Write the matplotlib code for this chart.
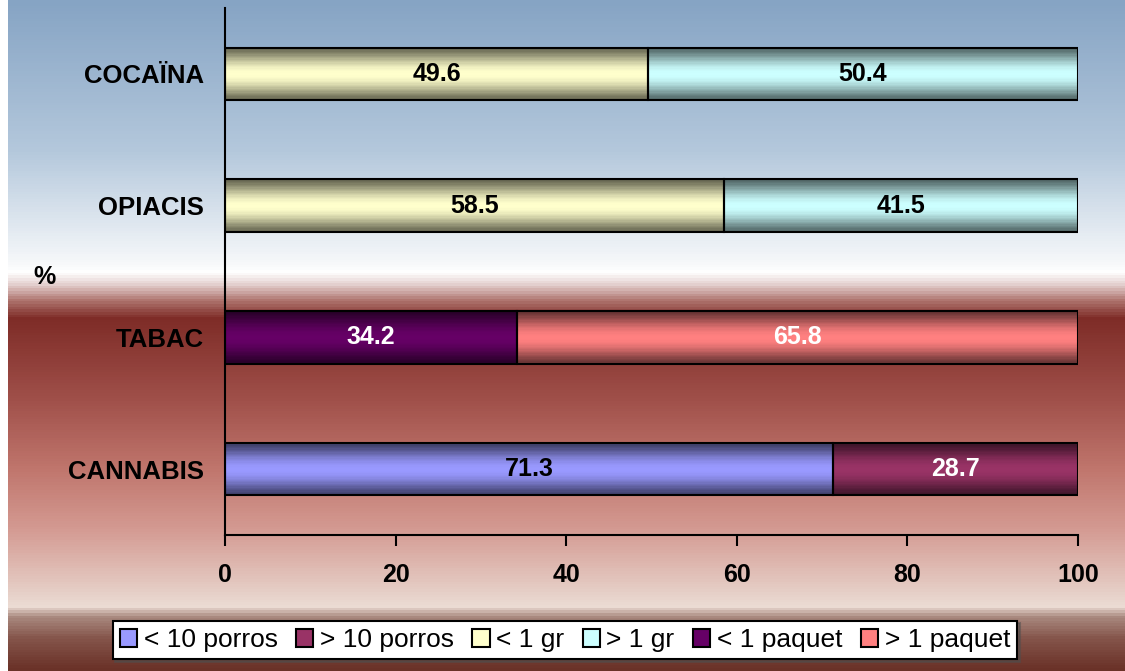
import numpy as np
import matplotlib
matplotlib.use('Agg')
import matplotlib.pyplot as plt
from matplotlib.colors import LinearSegmentedColormap, to_rgb
from matplotlib.patches import Patch

# data
drugs = ['CANNABIS', 'TABAC', 'OPIACIS', 'COCAÏNA']
first_part = [71.3, 34.2, 58.5, 49.6]
second_part = [28.7, 65.8, 41.5, 50.4]
first_colors = ['#9999ff', '#660066', '#ffffcc', '#ffffcc']
second_colors = ['#993366', '#ff8080', '#ccffff', '#ccffff']
first_txt = ['black', 'white', 'black', 'black']
second_txt = ['white', 'white', 'black', 'black']
legend_labels = ['< 10 porros', '> 10 porros', '< 1 gr', '> 1 gr', '< 1 paquet', '> 1 paquet']
legend_colors = ['#9999ff', '#993366', '#ffffcc', '#ccffff', '#660066', '#ff8080']
xticks = [0, 20, 40, 60, 80, 100]

plt.rcParams['font.family'] = ['Liberation Sans', 'DejaVu Sans']

fig = plt.figure(figsize=(11.25, 6.71), dpi=100)

# background gradient (top to bottom, pixel rows of 671)
stops = [(0, '#86a4c4'), (150, '#b4c8dc'), (262, '#f6f8fa'), (272, '#ffffff'),
         (285, '#e2cccb'), (300, '#b07670'), (318, '#7e2c27'), (400, '#a0504a'),
         (470, '#c0766d'), (530, '#d49a92'), (590, '#e5ccc4'), (608, '#ecdcd4'),
         (618, '#aa8a80'), (640, '#85554b'), (671, '#6a3228')]
bg_cmap = LinearSegmentedColormap.from_list('bg', [(p / 671, c) for p, c in stops])
bg = fig.add_axes([8 / 1125, 0, 1 - 8 / 1125, 1], zorder=-10)
bg.imshow(np.linspace(0, 1, 671).reshape(-1, 1), cmap=bg_cmap, aspect='auto',
          extent=[0, 1, 0, 1], origin='upper')
bg.axis('off')

ax = fig.add_axes([225 / 1125, (671 - 535) / 671, (1078 - 225) / 1125, (535 - 8) / 671])
ax.set_facecolor('none')

ypos = np.arange(len(drugs))
bar_h = 0.4


def shade(rect, color):
    # cylinder-like shading: thin strips, dark at top/bottom, light in the middle
    n = 40
    t = (np.arange(n) + 0.5) / n
    f = 0.4 + 0.6 * np.sin(np.pi * t) ** 1.4
    rgb = np.array(to_rgb(color))
    cols = [tuple(rgb * k) for k in f]
    x0, y0, h = rect.get_x(), rect.get_y(), rect.get_height()
    dh = h / n
    ax.barh(y0 + (np.arange(n) + 0.5) * dh, rect.get_width(), left=x0, height=dh * 1.3,
            color=cols, linewidth=0, zorder=2)
    rect.set_facecolor('none')
    rect.set_zorder(3)


b1 = ax.barh(ypos, first_part, height=bar_h, edgecolor='black', linewidth=1.5)
b2 = ax.barh(ypos, second_part, left=first_part, height=bar_h, edgecolor='black', linewidth=1.5)
for i in range(len(drugs)):
    shade(b1[i], first_colors[i])
    shade(b2[i], second_colors[i])
    ax.text(first_part[i] / 2, ypos[i], f'{first_part[i]:.1f}', ha='center', va='center',
            fontsize=18, fontweight='bold', color=first_txt[i], zorder=4)
    ax.text(first_part[i] + second_part[i] / 2, ypos[i], f'{second_part[i]:.1f}', ha='center',
            va='center', fontsize=18, fontweight='bold', color=second_txt[i], zorder=4)

ax.set_xlim(0, 100)
ax.set_ylim(-0.5, 3.5)
ax.set_xticks(xticks)
ax.set_xticklabels([str(v) for v in xticks], fontsize=18, fontweight='bold')
ax.set_yticks(ypos)
ax.set_yticklabels(drugs, fontsize=18.5, fontweight='bold')
ax.tick_params(axis='y', length=0, pad=15)
ax.tick_params(axis='x', length=8, width=1.5, pad=12, direction='out')
for s in ['top', 'right']:
    ax.spines[s].set_visible(False)
for s in ['left', 'bottom']:
    ax.spines[s].set_linewidth(1.5)

fig.text(45 / 1125, 1 - 277 / 671, '%', fontsize=18, fontweight='bold', ha='center', va='center')

handles = [Patch(facecolor=c, edgecolor='black', linewidth=1.5) for c in legend_colors]
leg = fig.legend(handles, legend_labels, loc='center', bbox_to_anchor=(565 / 1125, 1 - 640 / 671),
                 ncol=6, fontsize=19, frameon=True, fancybox=False, edgecolor='black',
                 handlelength=0.65, handleheight=0.7, handletextpad=0.25, columnspacing=0.7,
                 borderpad=0.28, borderaxespad=0, shadow=True)
leg.get_frame().set_linewidth(1.5)
leg.get_frame().set_facecolor('white')
leg.get_frame().set_alpha(1)

fig.savefig('out.png', dpi=100)
